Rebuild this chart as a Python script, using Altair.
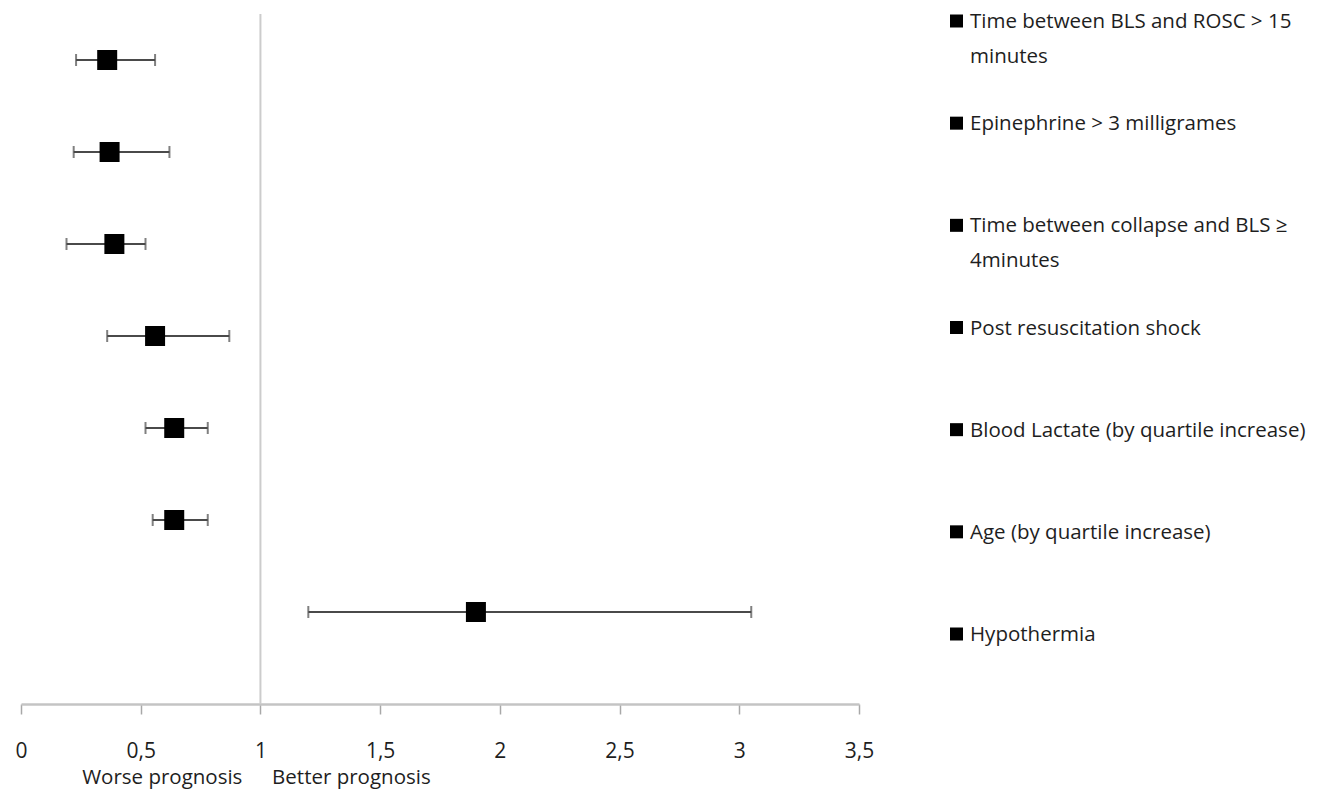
import altair as alt
import pandas as pd

# ---- data ----
labels = [
    "Time between BLS and ROSC > 15\nminutes",
    "Epinephrine > 3 milligrames",
    "Time between collapse and BLS ≥\n4minutes",
    "Post resuscitation shock",
    "Blood Lactate (by quartile increase)",
    "Age (by quartile increase)",
    "Hypothermia",
]
odds_ratio = [0.36, 0.37, 0.39, 0.56, 0.64, 0.64, 1.90]
ci_low = [0.23, 0.22, 0.19, 0.36, 0.52, 0.55, 1.20]
ci_high = [0.56, 0.62, 0.52, 0.87, 0.78, 0.78, 3.05]

x_ticks = [0, 0.5, 1, 1.5, 2, 2.5, 3, 3.5]
reference_value = [1]
annot_text = ["Worse prognosis", "Better prognosis"]
annot_x = [0.59, 1.38]

FONT = "Open Sans"
TXT = "#1e1e1e"

df = pd.DataFrame({"label": labels, "or": odds_ratio, "lo": ci_low, "hi": ci_high})
ref_df = pd.DataFrame({"v": reference_value})
ann_df = pd.DataFrame({"t": annot_text, "x": annot_x})

W, H = 838, 690

xscale = alt.Scale(domain=[0, 3.5], nice=False, zero=False)
yscale = alt.Scale(type="point", domain=labels, padding=0.75, align=1 / 3)

xaxis = alt.Axis(
    values=x_ticks,
    title=None,
    grid=False,
    domainColor="#c4c4c4",
    domainWidth=2.5,
    tickColor="#a8a8a8",
    tickWidth=1.5,
    tickSize=10,
    labelPadding=26,
    labelFontSize=21,
    labelColor=TXT,
    labelFont=FONT,
    labelFlush=False,
    labelOverlap=False,
    labelExpr="replace(toString(datum.value), '.', ',')",
)

ref_rule = alt.Chart(ref_df).mark_rule(color="#cccccc", strokeWidth=2).encode(
    x=alt.X("v:Q", scale=xscale, axis=xaxis)
)

whisker = alt.Chart(df).mark_rule(color="#4a4a4a", strokeWidth=2).encode(
    x=alt.X("lo:Q", scale=xscale),
    x2="hi:Q",
    y=alt.Y("label:N", scale=yscale, axis=None),
)

cap_lo = alt.Chart(df).mark_tick(color="#4a4a4a", thickness=2, size=12).encode(
    x=alt.X("lo:Q", scale=xscale),
    y=alt.Y("label:N", scale=yscale, axis=None),
)
cap_hi = alt.Chart(df).mark_tick(color="#4a4a4a", thickness=2, size=12).encode(
    x=alt.X("hi:Q", scale=xscale),
    y=alt.Y("label:N", scale=yscale, axis=None),
)

points = alt.Chart(df).mark_square(size=400, color="#000000", opacity=1).encode(
    x=alt.X("or:Q", scale=xscale),
    y=alt.Y("label:N", scale=yscale, axis=None),
)

annot = alt.Chart(ann_df).mark_text(
    fontSize=20.5, font=FONT, color=TXT, baseline="middle", align="center"
).encode(
    x=alt.X("x:Q", scale=xscale),
    y=alt.value(H + 74),
    text="t:N",
)

main = alt.layer(ref_rule, whisker, cap_lo, cap_hi, points, annot).properties(
    width=W, height=H
)

# ---- legend panel ----
lg_scale = alt.Scale(type="point", domain=labels, padding=0.0685)
leg_sq = alt.Chart(df).mark_square(size=169, color="#000000", opacity=1).encode(
    x=alt.value(16.5),
    y=alt.Y("label:N", scale=lg_scale, axis=None),
)
leg_txt = alt.Chart(df).mark_text(
    align="left",
    baseline="alphabetic",
    dy=7,
    fontSize=20.5,
    font=FONT,
    color=TXT,
    lineBreak="\n",
    lineHeight=35,
).encode(
    x=alt.value(30),
    y=alt.Y("label:N", scale=lg_scale, axis=None),
    text="label:N",
)
legend = alt.layer(leg_sq, leg_txt).properties(width=376, height=627)

chart = (
    alt.hconcat(main, legend, spacing=81, bounds="flush")
    .properties(padding={"left": 14, "top": 11, "right": 0, "bottom": 0})
    .configure(background="white")
    .configure_view(stroke=None)
)

chart.save("out.html", embed_options={"renderer": "svg", "actions": False})
